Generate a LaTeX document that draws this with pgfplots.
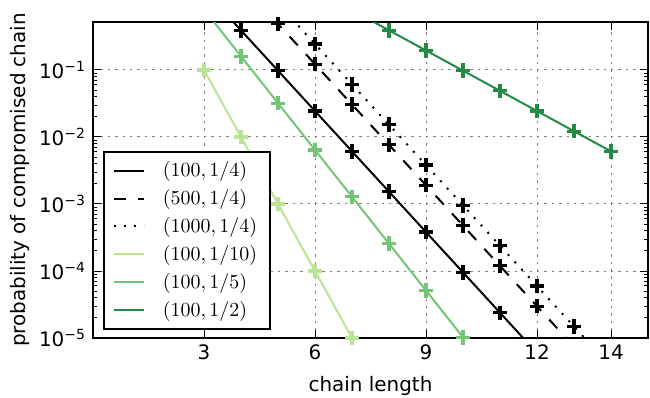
\documentclass[border=0pt]{standalone}
\usepackage{pgfplots}
\pgfplotsset{compat=1.18}
\usepackage{fontspec}
\setmainfont{DejaVu Sans}
\definecolor{gA}{RGB}{186,228,148}
\definecolor{gB}{RGB}{116,196,118}
\definecolor{gC}{RGB}{35,139,69}
\begin{document}
\begin{tikzpicture}
\begin{axis}[
  scale only axis,
  width=277.5bp, height=158bp,
  xmin=0, xmax=15,
  ymode=log, ymin=1e-5, ymax=0.52,
  xtick={3,6,9,12,14}, xticklabels={3,6,9,12,14},
  ytick={1e-5,1e-4,1e-3,1e-2,1e-1},
  yticklabels={10\textsuperscript{−5},10\textsuperscript{−4},10\textsuperscript{−3},10\textsuperscript{−2},10\textsuperscript{−1}},
  tick label style={font=\fontsize{10}{12}\selectfont},
  label style={font=\fontsize{10}{12}\selectfont},
  xlabel={chain length},
  ylabel={probability of compromised chain},
  xlabel style={yshift=-1.5bp},
  ylabel style={yshift=-2bp},
  axis line style={line width=1bp},
  tick align=inside,
  major tick length=4bp, minor tick length=2bp,
  every tick/.style={black, line width=0.5bp},
  xtick pos=both, ytick pos=both,
  grid=major,
  major grid style={gray, line width=0.5bp, dash pattern=on 1.2bp off 2.5bp},
  legend style={at={(0.018,0.025)}, anchor=south west, draw=black, line width=1bp,
    font=\fontsize{9.6}{11.5}\selectfont, row sep=1bp, inner xsep=4.5bp, inner ysep=3bp},
  legend cell align=left,
  legend image post style={line width=1bp},
  legend image code/.code={\draw[#1,mark=none] (0bp,0bp) -- (15bp,0bp);},
]
\coordinate (bl) at (rel axis cs:0,0);
\coordinate (tr) at (rel axis cs:1,1);
\addplot[black, line width=1bp, mark=+, mark size=3.6bp, mark options={solid, line width=1.6bp}]
  coordinates {(3,1.5625) (4,0.390625) (5,0.09765625) (6,0.0244140625) (7,0.006103515625) (8,0.00152587890625) (9,0.0003814697265625) (10,9.5367431640625e-05) (11,2.384185791015625e-05) (12,5.9604644775390625e-06)};
\addlegendentry{\hspace{7bp}$(100,1/4)$}
\addplot[black, line width=1bp, dash pattern=on 6bp off 6bp, mark=+, mark size=3.6bp, mark options={solid, line width=1.6bp}]
  coordinates {(4,1.953125) (5,0.48828125) (6,0.1220703125) (7,0.030517578125) (8,0.00762939453125) (9,0.0019073486328125) (10,0.000476837158203125) (11,0.00011920928955078125) (12,2.9802322387695312e-05) (13,7.450580596923828e-06)};
\addlegendentry{\hspace{7bp}$(500,1/4)$}
\addplot[black, line width=1bp, dash pattern=on 1bp off 4bp, mark=+, mark size=3.6bp, mark options={solid, line width=1.6bp}]
  coordinates {(5,0.9765625) (6,0.244140625) (7,0.06103515625) (8,0.0152587890625) (9,0.003814697265625) (10,0.00095367431640625) (11,0.0002384185791015625) (12,5.9604644775390625e-05) (13,1.4901161193847656e-05) (14,3.725290298461914e-06)};
\addlegendentry{\hspace{7bp}$(1000,1/4)$}
\addplot[gA, line width=1bp, mark=+, mark size=3.6bp, mark options={solid, line width=1.6bp}]
  coordinates {(3,0.1) (4,0.01) (5,0.001) (6,0.0001) (7,1e-05)};
\addlegendentry{\hspace{7bp}$(100,1/10)$}
\addplot[gB, line width=1bp, mark=+, mark size=3.6bp, mark options={solid, line width=1.6bp}]
  coordinates {(3,0.8) (4,0.16) (5,0.032) (6,0.0064) (7,0.00128) (8,0.000256) (9,5.12e-05) (10,1.024e-05)};
\addlegendentry{\hspace{7bp}$(100,1/5)$}
\addplot[gC, line width=1bp, mark=+, mark size=3.6bp, mark options={solid, line width=1.6bp}]
  coordinates {(7,0.78125) (8,0.390625) (9,0.1953125) (10,0.09765625) (11,0.048828125) (12,0.0244140625) (13,0.01220703125) (14,0.006103515625)};
\addlegendentry{\hspace{7bp}$(100,1/2)$}
\end{axis}
\pgfresetboundingbox
\path[use as bounding box] ([shift={(-46.5bp,-30bp)}]bl) rectangle ([shift={(1bp,11bp)}]tr);
\end{tikzpicture}
\end{document}
